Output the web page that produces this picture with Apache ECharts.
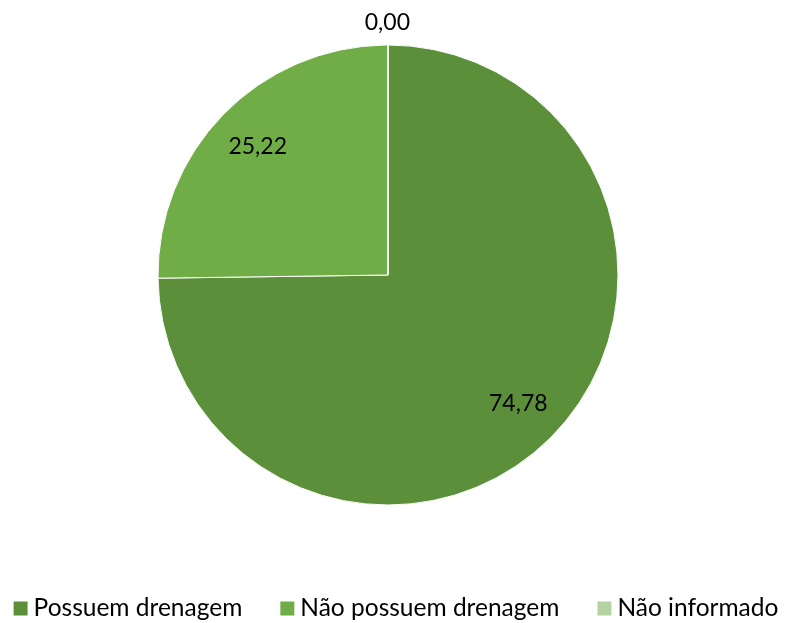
<!DOCTYPE html>
<html><head><meta charset="utf-8">
<script src="https://cdn.jsdelivr.net/npm/echarts@6/dist/echarts.min.js"></script>
<style>html,body{margin:0;padding:0;background:#fff}#c{width:790px;height:623px}</style>
</head><body><div id="c"></div>
<script>
const categories = ['Possuem drenagem', 'Não possuem drenagem', 'Não informado'];
const values = [74.78, 25.22, 0.00];
const colors = ['#5B8F3A', '#70AD47', '#B5D3A2'];
const fmt = v => v.toFixed(2).replace('.', ',');
const font = 'Lato, "Open Sans", sans-serif';
const chart = echarts.init(document.getElementById('c'));
const center = [388, 275];
chart.setOption({
  animation: false,
  color: colors,
  legend: {
    bottom: -3, left: 'center',
    itemWidth: 16, itemHeight: 16, itemGap: 36,
    icon: 'rect',
    textStyle: {fontFamily: font, fontSize: 24.5, color: '#000'},
    data: categories
  },
  series: [
    {
      type: 'pie', center: center, radius: [0, 230], startAngle: 90,
      itemStyle: {borderColor: '#fff', borderWidth: 1},
      label: {show: false},
      labelLine: {show: false},
      data: categories.map((n, i) => ({
        name: n, value: values[i],
        label: values[i] === 0 ? {show: true, position: 'outside', offset: [27, 0], formatter: p => fmt(p.value), fontFamily: font, fontSize: 23, color: '#000'} : {show: false},
        labelLine: {show: false, length: 22, length2: 0}
      }))
    },
    {
      type: 'pie', center: center, radius: [130, 230], startAngle: 90, silent: true,
      itemStyle: {color: 'transparent'},
      label: {show: true, position: 'inside', formatter: p => fmt(p.value), fontFamily: font, fontSize: 23, color: '#000'},
      labelLine: {show: false},
      data: categories.map((n, i) => ({name: n, value: values[i], label: {show: values[i] !== 0}}))
    }
  ]
});
</script></body></html>
